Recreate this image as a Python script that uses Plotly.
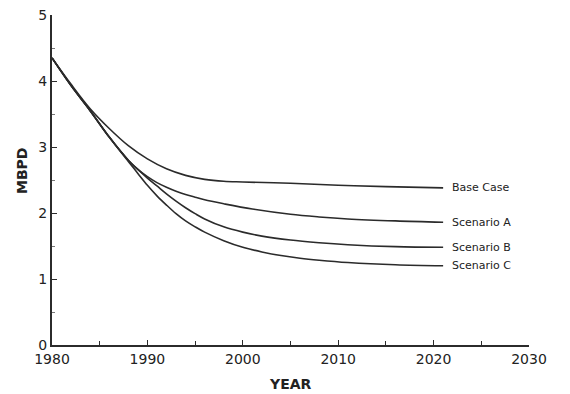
import plotly.graph_objects as go

# ---- data ----
years_base = [1980, 1982, 1984, 1986, 1988, 1990, 1992, 1994, 1996, 1998, 2000, 2005, 2010, 2015, 2021]
base_case = [4.35, 3.95, 3.58, 3.28, 3.02, 2.82, 2.67, 2.57, 2.51, 2.48, 2.47, 2.45, 2.42, 2.40, 2.38]

years_a = [1980, 1982, 1984, 1986, 1988, 1989, 1990, 1991, 1992, 1993, 1994, 1995, 1996, 1998, 2001, 2005, 2008, 2011, 2016, 2021]
scenario_a = [4.35, 3.93, 3.55, 3.15, 2.80, 2.66, 2.55, 2.46, 2.39, 2.33, 2.28, 2.24, 2.20, 2.14, 2.06, 1.98, 1.94, 1.91, 1.88, 1.86]

years_b = [1980, 1982, 1984, 1986, 1988, 1989, 1990, 1991, 1992, 1993, 1994, 1995, 1996, 1998, 2000, 2002, 2005, 2008, 2011, 2016, 2021]
scenario_b = [4.35, 3.93, 3.55, 3.15, 2.80, 2.66, 2.53, 2.41, 2.29, 2.18, 2.08, 1.99, 1.91, 1.79, 1.71, 1.65, 1.59, 1.55, 1.52, 1.49, 1.48]

years_c = [1980, 1982, 1984, 1986, 1988, 1989, 1990, 1991, 1992, 1993, 1994, 1995, 1996, 1998, 2000, 2002, 2004, 2006, 2008, 2011, 2016, 2021]
scenario_c = [4.35, 3.93, 3.55, 3.15, 2.78, 2.60, 2.42, 2.26, 2.12, 1.99, 1.88, 1.79, 1.71, 1.58, 1.48, 1.41, 1.355, 1.315, 1.285, 1.25, 1.215, 1.20]

series_names = ["Base Case", "Scenario A", "Scenario B", "Scenario C"]
series_x = [years_base, years_a, years_b, years_c]
series_y = [base_case, scenario_a, scenario_b, scenario_c]

x_tickvals = [1980, 1990, 2000, 2010, 2020, 2030]
y_tickvals = [0, 1, 2, 3, 4, 5]

LINE = "#2b2b2b"
FONT = "DejaVu Sans"

fig = go.Figure()
for name, xs, ys in zip(series_names, series_x, series_y):
    fig.add_trace(go.Scatter(
        x=xs, y=ys, mode="lines", name=name,
        line=dict(color=LINE, width=1.6, shape="spline", smoothing=1.0),
        showlegend=False, hoverinfo="skip",
    ))
    fig.add_annotation(
        x=xs[-1], y=ys[-1], xref="x", yref="y", text=name,
        showarrow=False, xanchor="left", yanchor="middle", xshift=7,
        font=dict(family=FONT, size=11, color="#222"),
    )

fig.add_annotation(
    x=-0.063, y=0.527, xref="paper", yref="paper", text="<b>MBPD</b>",
    textangle=-90, showarrow=False, xanchor="center", yanchor="middle",
    font=dict(family=FONT, size=14, color="#222"),
)
fig.add_annotation(
    x=0.5, y=-0.118, xref="paper", yref="paper", text="<b>YEAR</b>",
    showarrow=False, xanchor="center", yanchor="middle",
    font=dict(family=FONT, size=14, color="#222"),
)

# page body has an 8px default margin: figure is shrunk/offset to compensate
fig.update_layout(
    width=562, height=386,
    margin=dict(l=44, r=41, t=7, b=49, autoexpand=False),
    paper_bgcolor="white", plot_bgcolor="white",
    font=dict(family=FONT, color="#222"),
)
fig.update_xaxes(
    range=[1980, 2030], tickvals=x_tickvals, automargin=False,
    ticklabeloverflow="allow",
    showgrid=False, zeroline=False,
    showline=True, linecolor=LINE, linewidth=2,
    ticks="inside", ticklen=5, tickcolor=LINE, tickwidth=1,
    minor=dict(dtick=5, tick0=1980, ticks="inside", ticklen=4, tickcolor=LINE, showgrid=False),
    tickfont=dict(family=FONT, size=14, color="#222"),
)
fig.update_yaxes(
    range=[0, 5], tickvals=y_tickvals, automargin=False,
    ticklabeloverflow="allow",
    showgrid=False, zeroline=False,
    showline=True, linecolor=LINE, linewidth=2,
    ticks="inside", ticklen=5, tickcolor=LINE, tickwidth=1,
    minor=dict(dtick=0.5, tick0=0, ticks="inside", ticklen=3, tickcolor="#777", showgrid=False),
    tickfont=dict(family=FONT, size=14, color="#222"),
)

fig.write_html("out.html")
